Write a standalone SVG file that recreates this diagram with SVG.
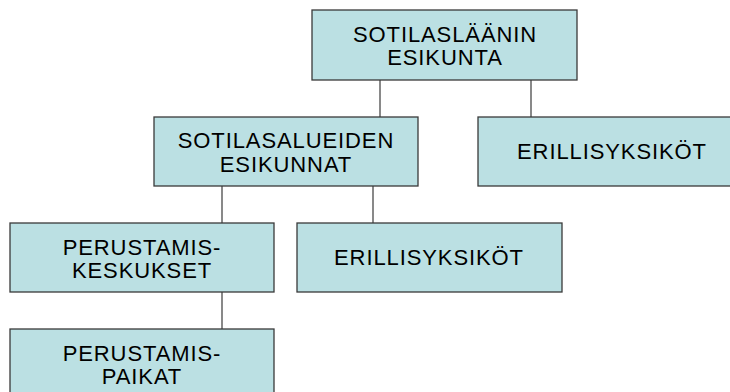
<svg xmlns="http://www.w3.org/2000/svg" width="730" height="392" viewBox="0 0 730 392">
  <style>
    .box { fill: #bbe0e3; stroke: #3a3a3a; stroke-width: 1.3; }
    .lbl { font-family: "Liberation Sans", Arial, sans-serif; font-size: 22px; letter-spacing: 0.9px; fill: #000; text-anchor: middle; }
    .link { stroke: #4a4a4a; stroke-width: 1.3; fill: none; }
  </style>
  <rect width="730" height="392" fill="#fff"/>

  <!-- tree connectors -->
  <g id="connectors">
    <line class="link" x1="380" y1="80" x2="380" y2="117"/>
    <line class="link" x1="531" y1="80" x2="531" y2="117"/>
    <line class="link" x1="222" y1="186" x2="222" y2="223"/>
    <line class="link" x1="373" y1="186" x2="373" y2="223"/>
    <line class="link" x1="222" y1="292" x2="222" y2="329"/>
  </g>

  <g id="sotilaslaanin-esikunta">
    <rect class="box" x="312" y="10" width="265" height="70"/>
    <text class="lbl" x="445" y="42">SOTILASLÄÄNIN</text>
    <text class="lbl" x="445" y="65">ESIKUNTA</text>
  </g>

  <g id="sotilasalueiden-esikunnat">
    <rect class="box" x="154" y="117" width="264" height="69"/>
    <text class="lbl" x="286" y="148">SOTILASALUEIDEN</text>
    <text class="lbl" x="286" y="172">ESIKUNNAT</text>
  </g>

  <g id="erillisyksikot-1">
    <rect class="box" x="478" y="117" width="265" height="69"/>
    <text class="lbl" x="612" y="159">ERILLISYKSIKÖT</text>
  </g>

  <g id="perustamiskeskukset">
    <rect class="box" x="10" y="223" width="264" height="69"/>
    <text class="lbl" x="142" y="255">PERUSTAMIS-</text>
    <text class="lbl" x="142" y="278">KESKUKSET</text>
  </g>

  <g id="erillisyksikot-2">
    <rect class="box" x="297" y="223" width="265" height="69"/>
    <text class="lbl" x="429" y="265">ERILLISYKSIKÖT</text>
  </g>

  <g id="perustamispaikat">
    <rect class="box" x="10" y="329" width="264" height="70"/>
    <text class="lbl" x="142" y="361">PERUSTAMIS-</text>
    <text class="lbl" x="142" y="384">PAIKAT</text>
  </g>
</svg>
